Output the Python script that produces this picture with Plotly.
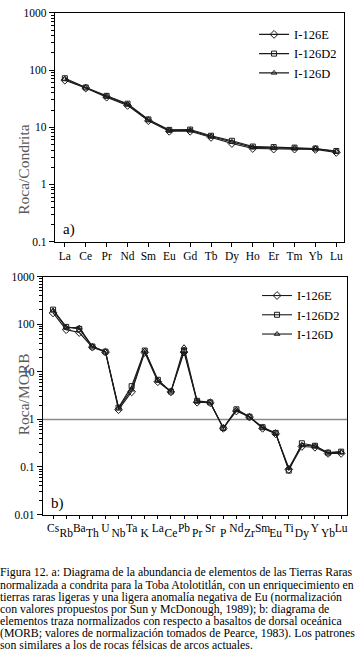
import plotly.graph_objects as go

# ---------------- data ----------------
ree = ["La", "Ce", "Pr", "Nd", "Sm", "Eu", "Gd", "Tb", "Dy", "Ho", "Er", "Tm", "Yb", "Lu"]
ree_E = [66.5, 48.5, 33.6, 24.1, 13.0, 8.5, 8.5, 6.65, 5.2, 4.25, 4.15, 4.15, 4.1, 3.63]
ree_D2 = [72, 49.6, 35.4, 25.8, 13.7, 9.0, 9.1, 7.1, 5.8, 4.6, 4.5, 4.4, 4.25, 3.85]
ree_D = [70, 49, 34.5, 25, 13.4, 8.8, 8.8, 6.9, 5.5, 4.45, 4.35, 4.3, 4.2, 3.75]

trace_el = ["Cs", "Rb", "Ba", "Th", "U", "Nb", "Ta", "K", "La", "Ce", "Pb", "Pr",
            "Sr", "P", "Nd", "Zr", "Sm", "Eu", "Ti", "Dy", "Y", "Yb", "Lu"]
morb_E = [173, 77, 67, 33, 26, 1.6, 3.8, 25.6, 6.2, 3.8, 26, 2.3, 2.24, 0.65, 1.5,
          1.12, 0.65, 0.50, 0.089, 0.27, 0.26, 0.193, 0.193]
morb_D2 = [203, 88, 80, 34, 26.5, 1.77, 5.0, 28, 6.8, 3.85, 28, 2.46, 2.28, 0.66, 1.63,
           1.14, 0.685, 0.52, 0.084, 0.315, 0.28, 0.2, 0.21]
morb_D = [195, 86, 85, 34, 26.5, 1.75, 4.2, 28, 6.6, 3.85, 33, 2.4, 2.26, 0.66, 1.58,
          1.13, 0.67, 0.51, 0.095, 0.29, 0.275, 0.198, 0.205]

series_names = ["I-126E", "I-126D2", "I-126D"]
y_ticks_top = [0.1, 1, 10, 100, 1000]
y_ticks_bot = [0.01, 0.1, 1, 10, 100, 1000]

caption_lines = [
    "Figura 12. a: Diagrama de la abundancia de elementos de las Tierras Raras",
    "normalizada a condrita para la Toba Atolotitlán, con un enriquecimiento en",
    "tierras raras ligeras y una ligera anomalía negativa de Eu (normalización",
    "con valores propuestos por Sun y McDonough, 1989); b: diagrama de",
    "elementos traza normalizados con respecto a basaltos de dorsal oceánica",
    "(MORB; valores de normalización tomados de Pearce, 1983). Los patrones",
    "son similares a los de rocas félsicas de arcos actuales.",
]

# ---------------- figure ----------------
W, H = 362, 659
FONT = "Liberation Serif, Times New Roman, serif"
LC = "#1a1a1a"
symbols = ["diamond-open", "square-open", "triangle-up-open"]
msizes = [6, 5, 5]

fig = go.Figure()

xr = list(range(len(ree)))
for name, ys, sym, ms in zip(series_names, [ree_E, ree_D2, ree_D], symbols, msizes):
    fig.add_trace(go.Scatter(
        x=xr, y=ys, name=name, mode="lines+markers",
        line=dict(color=LC, width=1.1),
        marker=dict(symbol=sym, size=ms, color=LC, line=dict(width=1, color=LC)),
        xaxis="x", yaxis="y", legend="legend"))

xt = list(range(len(trace_el)))
for name, ys, sym, ms in zip(series_names, [morb_E, morb_D2, morb_D], symbols, msizes):
    fig.add_trace(go.Scatter(
        x=xt, y=ys, name=name, mode="lines+markers",
        line=dict(color=LC, width=1.1),
        marker=dict(symbol=sym, size=ms, color=LC, line=dict(width=1, color=LC)),
        xaxis="x2", yaxis="y2", legend="legend2"))

# invisible carrier trace so the second (staggered) label axis is drawn
fig.add_trace(go.Scatter(x=xt, y=morb_E, mode="markers", marker=dict(opacity=0),
                         xaxis="x3", yaxis="y2", showlegend=False, hoverinfo="skip"))

def minor_vals(lo_exp, hi_exp):
    out = []
    for e in range(lo_exp, hi_exp):
        for m in range(2, 10):
            out.append(m * 10 ** e)
    return out

def fmt(v):
    return ("%g" % v)

axis_common = dict(showline=True, linecolor="black", linewidth=1, mirror=True,
                   showgrid=False, zeroline=False,
                   tickfont=dict(family=FONT, size=11.5, color="black"))

x_top = [55 / W, 345 / W]
y_top = [1 - 240 / H, 1 - 7 / H]
x_bot = [43 / W, 348 / W]
y_bot = [1 - 518 / H, 1 - 275.7 / H]
xr_bot = [-0.78, 22.45]

fig.update_layout(
    width=W, height=H, margin=dict(l=0, r=0, t=0, b=0),
    paper_bgcolor="white", plot_bgcolor="white",
    font=dict(family=FONT, color="black"),
    xaxis=dict(domain=x_top, anchor="y", range=[-0.48, 13.37],
               tickvals=xr, ticktext=ree, ticks="outside", ticklen=4,
               tickcolor="black", **axis_common),
    yaxis=dict(domain=y_top, anchor="x", type="log", range=[-1, 3],
               tickvals=y_ticks_top, ticktext=[fmt(v) for v in y_ticks_top],
               ticks="outside", ticklen=5, tickcolor="black",
               minor=dict(ticks="outside", ticklen=3, tickcolor="black",
                          tickvals=minor_vals(-1, 3)),
               **axis_common),
    xaxis2=dict(domain=x_bot, anchor="y2", range=xr_bot,
                tickvals=xt,
                ticktext=[t if i % 2 == 0 else "" for i, t in enumerate(trace_el)],
                ticks="outside", ticklen=3, tickcolor="black",
                ticklabelstandoff=0, **axis_common),
    xaxis3=dict(overlaying="x2", anchor="y2", side="bottom", range=xr_bot,
                tickvals=[i for i in xt if i % 2 == 1],
                ticktext=[t for i, t in enumerate(trace_el) if i % 2 == 1],
                ticks="", showline=False, showgrid=False, zeroline=False,
                ticklabelstandoff=10,
                tickfont=dict(family=FONT, size=11.5, color="black")),
    yaxis2=dict(domain=y_bot, anchor="x2", type="log", range=[-2, 3],
                tickvals=y_ticks_bot, ticktext=[fmt(v) for v in y_ticks_bot],
                ticks="outside", ticklen=5, tickcolor="black",
                minor=dict(ticks="outside", ticklen=3, tickcolor="black",
                           tickvals=minor_vals(-2, 3)),
                **axis_common),
    legend=dict(x=343 / W, xanchor="right", y=1 - 14 / H, yanchor="top",
                bgcolor="rgba(0,0,0,0)", itemwidth=30,
                font=dict(family=FONT, size=12.5, color="black"),
                tracegroupgap=0),
    legend2=dict(x=346 / W, xanchor="right", y=1 - 280 / H, yanchor="top",
                 bgcolor="rgba(0,0,0,0)", itemwidth=30,
                 font=dict(family=FONT, size=12.5, color="black"),
                 tracegroupgap=0),
    showlegend=True,
)

# reference line at 1 in the MORB plot
fig.add_shape(type="line", xref="x2 domain", yref="y2", x0=0, x1=1, y0=1, y1=1,
              line=dict(color="#8a8a8a", width=1.5), layer="below")

# axis titles
fig.add_annotation(text="Roca/Condrita", textangle=-90, xref="paper", yref="paper",
                   x=13 / W, y=1 - 118 / H, showarrow=False,
                   font=dict(family=FONT, size=15.5, color="#5a5a5a"))
fig.add_annotation(text="Roca/MORB", textangle=-90, xref="paper", yref="paper",
                   x=13 / W, y=1 - 395 / H, showarrow=False,
                   font=dict(family=FONT, size=15.5, color="#5a5a5a"))

# panel labels
fig.add_annotation(text="a)", xref="paper", yref="paper", x=61 / W, y=1 - 228 / H,
                   xanchor="left", yanchor="middle", showarrow=False,
                   font=dict(family=FONT, size=15, color="black"))
fig.add_annotation(text="b)", xref="paper", yref="paper", x=49 / W, y=1 - 507 / H,
                   xanchor="left", yanchor="middle", showarrow=False,
                   font=dict(family=FONT, size=15, color="black"))

# caption
for i, line in enumerate(caption_lines):
    fig.add_annotation(text=line, xref="paper", yref="paper",
                       x=0, y=1 - (577 + i * 12.35) / H,
                       xanchor="left", yanchor="middle", showarrow=False,
                       borderpad=0, borderwidth=0,
                       font=dict(family=FONT, size=11.8, color="black"))

fig.write_html("out.html",
               config={"displayModeBar": False},
               post_script="document.body.style.margin='0px';")
